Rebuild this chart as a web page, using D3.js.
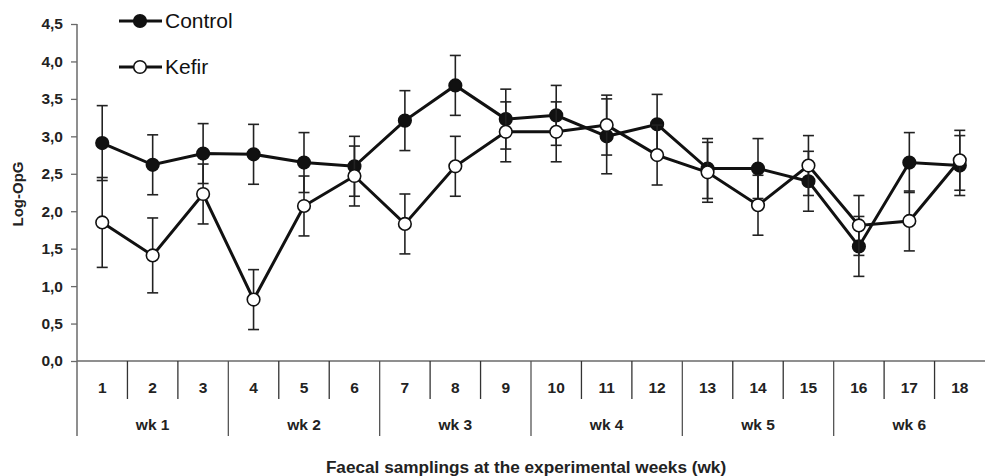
<!DOCTYPE html>
<html>
<head>
<meta charset="utf-8">
<script src="https://cdn.jsdelivr.net/npm/d3@7"></script>
<style>
  html, body { margin: 0; padding: 0; background: #fff; }
  svg { display: block; font-family: "Liberation Sans", Arial, sans-serif; }
</style>
</head>
<body>
<svg id="chart" width="985" height="476"></svg>
<script>
const samples = ["1","2","3","4","5","6","7","8","9","10","11","12","13","14","15","16","17","18"];
const weeks = ["wk 1","wk 2","wk 3","wk 4","wk 5","wk 6"];
const control = [2.91, 2.62, 2.77, 2.76, 2.65, 2.60, 3.21, 3.68, 3.23, 3.28, 3.00, 3.16, 2.57, 2.57, 2.40, 1.53, 2.65, 2.61];
const controlErr = [0.5, 0.4, 0.4, 0.4, 0.4, 0.4, 0.4, 0.4, 0.4, 0.4, 0.5, 0.4, 0.4, 0.4, 0.4, 0.4, 0.4, 0.4];
const kefir = [1.85, 1.41, 2.23, 0.82, 2.07, 2.47, 1.83, 2.60, 3.06, 3.06, 3.15, 2.75, 2.52, 2.08, 2.61, 1.81, 1.87, 2.68];
const kefirErr = [0.6, 0.5, 0.4, 0.4, 0.4, 0.4, 0.4, 0.4, 0.4, 0.4, 0.4, 0.4, 0.4, 0.4, 0.4, 0.4, 0.4, 0.4];
const yTicks = [0, 0.5, 1.0, 1.5, 2.0, 2.5, 3.0, 3.5, 4.0, 4.5];

(function () {
const svg = d3.select("#chart");
const mLeft = 77, mRight = 985, mTop = 24, mBottom = 361;
const x = d3.scaleBand().domain(samples).range([mLeft, mRight]).padding(0);
const xw = d3.scaleBand().domain(weeks).range([mLeft, mRight]).padding(0);
const y = d3.scaleLinear().domain([0, 4.5]).range([mBottom, mTop]);
const fmt = d => d3.format(".1f")(d).replace(".", ",");
const axisCol = "#6a6a6a";

// Y axis
const yAxis = svg.append("g").attr("transform", `translate(${mLeft},0)`)
  .call(d3.axisLeft(y).tickValues(yTicks).tickFormat(fmt).tickSize(6).tickPadding(8));
yAxis.select(".domain").remove();
yAxis.selectAll(".tick line").attr("stroke", axisCol).attr("stroke-width", 1.3);
yAxis.selectAll(".tick text").attr("font-size", 15.5).attr("font-weight", "bold")
  .attr("fill", "#222").attr("font-family", "'Liberation Sans', Arial, sans-serif");
svg.append("line").attr("x1", mLeft).attr("x2", mLeft).attr("y1", mTop).attr("y2", 436)
  .attr("stroke", axisCol).attr("stroke-width", 1.5);

// X axis line
svg.append("line").attr("x1", mLeft).attr("x2", mRight).attr("y1", mBottom).attr("y2", mBottom)
  .attr("stroke", axisCol).attr("stroke-width", 1.5);

// Sample dividers
samples.forEach((s, i) => {
  if (i === 0) return;
  const xx = x(s);
  const isWeek = i % 3 === 0;
  svg.append("line").attr("x1", xx).attr("x2", xx).attr("y1", mBottom).attr("y2", isWeek ? 436 : 399)
    .attr("stroke", isWeek ? "#555" : "#333").attr("stroke-width", 1.3);
});
svg.append("g").selectAll("text").data(samples).join("text")
  .attr("x", d => x(d) + x.bandwidth() / 2).attr("y", 393)
  .attr("text-anchor", "middle").attr("font-size", 15.5).attr("font-weight", "bold").attr("fill", "#222")
  .text(d => d);
svg.append("g").selectAll("text").data(weeks).join("text")
  .attr("x", d => xw(d) + xw.bandwidth() / 2).attr("y", 430)
  .attr("text-anchor", "middle").attr("font-size", 15.5).attr("font-weight", "bold").attr("fill", "#222")
  .text(d => d);

// Axis titles
svg.append("text").attr("x", 526).attr("y", 473).attr("text-anchor", "middle")
  .attr("font-size", 17.2).attr("font-weight", "bold").attr("fill", "#222")
  .text("Faecal samplings at the experimental weeks (wk)");
svg.append("text").attr("transform", "translate(23,194) rotate(-90)").attr("text-anchor", "middle")
  .attr("font-size", 15).attr("font-weight", "bold").attr("fill", "#222").text("Log-OpG");

// Series
const series = [
  { name: "Control", vals: control, err: controlErr, fill: "#111" },
  { name: "Kefir", vals: kefir, err: kefirErr, fill: "#fff" }
];
const cx = i => x(samples[i]) + x.bandwidth() / 2;
const line = d3.line().x((d, i) => cx(i)).y(d => y(d));

series.forEach(s => {
  const g = svg.append("g");
  s.vals.forEach((v, i) => {
    const x0 = cx(i), yt = y(v + s.err[i]), yb = y(v - s.err[i]);
    g.append("line").attr("x1", x0).attr("x2", x0).attr("y1", yt).attr("y2", yb).attr("stroke", "#222").attr("stroke-width", 1.6);
    g.append("line").attr("x1", x0 - 5.5).attr("x2", x0 + 5.5).attr("y1", yt).attr("y2", yt).attr("stroke", "#222").attr("stroke-width", 1.6);
    g.append("line").attr("x1", x0 - 5.5).attr("x2", x0 + 5.5).attr("y1", yb).attr("y2", yb).attr("stroke", "#222").attr("stroke-width", 1.6);
  });
  g.append("path").datum(s.vals).attr("d", line).attr("fill", "none").attr("stroke", "#111").attr("stroke-width", 3);
  g.selectAll("circle").data(s.vals).join("circle")
    .attr("cx", (d, i) => cx(i)).attr("cy", d => y(d)).attr("r", 6.3)
    .attr("fill", s.fill).attr("stroke", "#111").attr("stroke-width", 1.6);
});

// Legend
const legY = [21, 67];
series.forEach((s, i) => {
  const g = svg.append("g");
  g.append("line").attr("x1", 119).attr("x2", 162).attr("y1", legY[i]).attr("y2", legY[i]).attr("stroke", "#111").attr("stroke-width", 3);
  g.append("circle").attr("cx", 140).attr("cy", legY[i]).attr("r", 6.3).attr("fill", s.fill).attr("stroke", "#111").attr("stroke-width", 1.6);
  g.append("text").attr("x", 165).attr("y", legY[i] + 7).attr("font-size", 21).attr("fill", "#111").text(s.name);
});
})();
</script>
</body>
</html>
